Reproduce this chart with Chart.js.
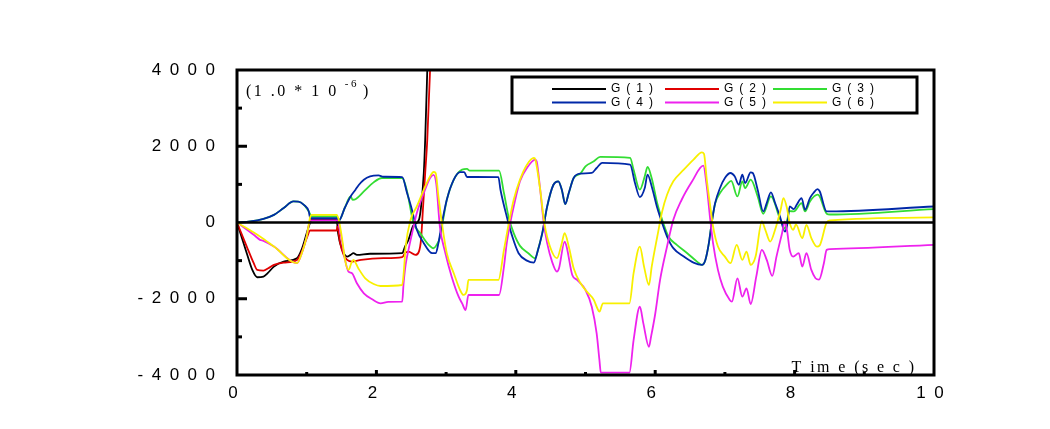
<!DOCTYPE html>
<html>
<head>
<meta charset="utf-8">
<title>G(1) - G(6) vs time</title>
<script src="https://cdn.jsdelivr.net/npm/chart.js@4.4.1/dist/chart.umd.min.js"></script>
<style>
  html, body { margin: 0; padding: 0; background: #fff; }
  #chart { display: block; }
</style>
</head>
<body>
<canvas id="chart" width="1050" height="429"></canvas>
<script>
const seriesNames = ["G(1)", "G(2)", "G(3)", "G(4)", "G(5)", "G(6)"];
const seriesColors = ["#000000", "#e00000", "#33dd33", "#0028a8", "#ee22ee", "#f8f000"];

const yTickValues = [-4000, -2000, 0, 2000, 4000];
const xTickValues = [0, 2, 4, 6, 8, 10];

// G(1) black - runs off the top after ~2.7 s
const g1Time = [0, 0.14, 0.22, 0.29, 0.38, 0.44, 0.53, 0.67, 0.86, 0.93, 1.03, 1.07, 1.43, 1.45, 1.51, 1.58, 1.63, 1.67, 1.72, 1.91, 2.37, 2.41, 2.46, 2.53, 2.61, 2.64, 2.68, 2.70, 2.73, 2.76];
const g1Vals = [0, -805, -1244, -1436, -1420, -1330, -1157, -1026, -937, -700, -105, 80, 80, -280, -718, -894, -850, -805, -850, -820, -805, -631, -455, -80, 70, 400, 1299, 2175, 4000, 6000];

// G(2) red
const g2Time = [0, 0.14, 0.24, 0.29, 0.38, 0.45, 0.53, 0.67, 0.86, 0.93, 1.0, 1.05, 1.43, 1.44, 1.48, 1.53, 1.58, 1.65, 1.78, 2.10, 2.37, 2.41, 2.46, 2.56, 2.61, 2.64, 2.67, 2.70, 2.73, 2.77, 2.80];
const g2Vals = [0, -631, -1068, -1244, -1262, -1200, -1112, -1052, -981, -763, -411, -210, -210, -105, -542, -850, -981, -1026, -981, -937, -910, -805, -763, -850, -763, -455, 421, 1299, 2175, 4000, 6000];

// G(3) green
const g3Time = [0, 0.19, 0.38, 0.53, 0.67, 0.81, 0.88, 0.96, 1.03, 1.07, 1.43, 1.46, 1.55, 1.63, 1.66, 1.70, 1.82, 1.96, 2.08, 2.37, 2.44, 2.53, 2.63, 2.75, 2.82, 2.86, 2.91, 2.96, 3.01, 3.11, 3.23, 3.30, 3.34, 3.76, 3.83, 3.90, 3.97, 4.06, 4.18, 4.28, 4.32, 4.38, 4.45, 4.54, 4.61, 4.66, 4.71, 4.76, 4.83, 4.93, 5.0, 5.12, 5.21, 5.64, 5.69, 5.78, 5.85, 5.89, 5.95, 6.03, 6.10, 6.19, 6.31, 6.46, 6.60, 6.67, 6.72, 6.77, 6.81, 6.86, 6.93, 7.03, 7.09, 7.18, 7.25, 7.29, 7.37, 7.47, 7.55, 7.66, 7.79, 7.86, 7.93, 7.99, 8.10, 8.15, 8.22, 8.33, 8.36, 8.46, 8.51, 10];
const g3Vals = [0, 26, 97, 200, 380, 552, 550, 465, 290, 158, 158, 50, 400, 684, 597, 611, 816, 1052, 1167, 1167, 815, 0, -280, -587, -675, -600, -400, 100, 597, 1123, 1386, 1404, 1360, 1360, 773, 116, -280, -613, -805, -937, -700, -280, 421, 990, 1080, 860, 483, 773, 1167, 1290, 1473, 1604, 1720, 1693, 1386, 860, 1210, 1457, 1160, 500, 70, -368, -587, -805, -1026, -1112, -981, -542, -16, 500, 773, 1000, 1090, 684, 1080, 905, 1123, 684, 228, 684, 97, -150, 300, 290, 510, 290, 552, 730, 680, 230, 210, 352];

// G(4) blue
const g4Time = [0, 0.19, 0.38, 0.53, 0.67, 0.81, 0.88, 0.96, 1.03, 1.05, 1.07, 1.43, 1.46, 1.55, 1.63, 1.70, 1.75, 1.82, 1.91, 2.03, 2.10, 2.37, 2.44, 2.51, 2.58, 2.68, 2.80, 2.85, 2.89, 2.94, 3.01, 3.11, 3.20, 3.26, 3.30, 3.75, 3.78, 3.87, 3.95, 4.04, 4.16, 4.26, 4.30, 4.38, 4.45, 4.54, 4.61, 4.66, 4.71, 4.76, 4.83, 4.93, 5.09, 5.16, 5.24, 5.64, 5.71, 5.78, 5.85, 5.89, 5.95, 6.03, 6.10, 6.17, 6.26, 6.41, 6.55, 6.67, 6.72, 6.77, 6.81, 6.86, 6.93, 7.00, 7.08, 7.14, 7.20, 7.25, 7.29, 7.37, 7.40, 7.47, 7.55, 7.60, 7.66, 7.72, 7.79, 7.86, 7.89, 7.93, 7.99, 8.03, 8.10, 8.15, 8.22, 8.27, 8.33, 8.36, 8.46, 8.51, 10];
const g4Vals = [0, 26, 97, 200, 380, 552, 550, 465, 290, 115, 115, 115, 50, 400, 684, 860, 990, 1123, 1210, 1235, 1200, 1190, 773, 334, -192, -542, -805, -805, -540, -16, 597, 1123, 1320, 1320, 1194, 1190, 860, 158, -368, -805, -1000, -1052, -845, -280, 421, 990, 1080, 860, 483, 773, 1167, 1281, 1299, 1430, 1562, 1520, 1036, 668, 905, 1254, 947, 379, -16, -368, -673, -894, -1052, -1112, -981, -542, -16, 510, 905, 1167, 1299, 1212, 990, 1254, 1036, 1315, 1299, 860, 290, 510, 790, 510, 158, -237, -105, 421, 350, 465, 641, 334, 641, 773, 878, 820, 290, 290, 420];

// G(5) magenta - runs along the bottom edge around 5.2-5.6 s
const g5Time = [0, 0.24, 0.33, 0.38, 0.53, 0.86, 0.93, 1.0, 1.05, 1.43, 1.46, 1.51, 1.55, 1.60, 1.65, 1.72, 1.82, 1.94, 2.06, 2.17, 2.37, 2.39, 2.42, 2.46, 2.51, 2.58, 2.68, 2.77, 2.82, 2.86, 2.91, 2.99, 3.08, 3.18, 3.23, 3.28, 3.32, 3.76, 3.83, 3.87, 3.92, 3.97, 4.06, 4.16, 4.28, 4.30, 4.35, 4.40, 4.45, 4.52, 4.59, 4.62, 4.70, 4.73, 4.81, 4.88, 5.0, 5.09, 5.16, 5.20, 5.22, 5.63, 5.69, 5.78, 5.83, 5.91, 5.94, 6.0, 6.07, 6.17, 6.26, 6.38, 6.53, 6.69, 6.74, 6.79, 6.83, 6.90, 6.97, 7.07, 7.10, 7.18, 7.25, 7.31, 7.37, 7.45, 7.53, 7.60, 7.68, 7.74, 7.82, 7.86, 7.89, 7.93, 7.98, 8.06, 8.11, 8.17, 8.24, 8.30, 8.35, 8.42, 8.46, 8.51, 10];
const g5Vals = [0, -323, -455, -480, -631, -1068, -805, -368, 53, 53, -50, -540, -981, -1288, -1330, -1595, -1857, -2015, -2120, -2080, -2078, -1600, -1100, -718, -300, 247, 773, 1167, 1250, 1000, -100, -805, -1420, -1946, -2120, -2296, -1901, -1901, -1157, -542, -16, 420, 1080, 1430, 1650, 1600, 860, 0, -542, -1026, -1288, -1200, -500, -640, -1375, -1507, -1770, -2210, -2909, -3611, -3940, -3940, -3085, -2210, -2646, -3260, -3000, -2400, -1507, -631, 70, 597, 1080, 1491, 947, 70, -542, -1244, -1683, -2033, -2078, -1463, -1946, -1726, -2140, -1420, -718, -981, -1402, -894, -280, 26, -190, -718, -894, -805, -1157, -805, -1244, -1463, -1500, -1068, -718, -700, -587];

// G(6) yellow
const g6Time = [0, 0.33, 0.53, 0.86, 0.93, 1.0, 1.05, 1.07, 1.43, 1.46, 1.51, 1.55, 1.60, 1.64, 1.67, 1.74, 1.84, 1.96, 2.06, 2.37, 2.39, 2.42, 2.49, 2.58, 2.68, 2.77, 2.82, 2.85, 2.89, 2.94, 3.01, 3.11, 3.20, 3.25, 3.30, 3.32, 3.75, 3.83, 3.90, 3.97, 4.06, 4.16, 4.26, 4.28, 4.35, 4.41, 4.49, 4.59, 4.66, 4.70, 4.76, 4.83, 4.93, 5.02, 5.12, 5.16, 5.20, 5.25, 5.63, 5.69, 5.78, 5.84, 5.91, 5.95, 6.03, 6.10, 6.17, 6.26, 6.41, 6.55, 6.67, 6.70, 6.74, 6.79, 6.83, 6.90, 7.00, 7.08, 7.17, 7.25, 7.31, 7.37, 7.44, 7.53, 7.58, 7.65, 7.72, 7.80, 7.84, 7.89, 7.93, 7.98, 8.02, 8.11, 8.17, 8.24, 8.32, 8.36, 8.46, 8.51, 10];
const g6Vals = [0, -368, -631, -1068, -805, -368, 142, 200, 200, 70, -455, -981, -1244, -1068, -981, -1200, -1463, -1612, -1665, -1639, -1360, -631, 70, 421, 860, 1210, 1325, 1300, 684, -16, -805, -1330, -1770, -1900, -1770, -1507, -1507, -718, -16, 597, 1123, 1517, 1693, 1650, 860, -16, -631, -937, -542, -280, -631, -1200, -1595, -1814, -2033, -2210, -2340, -2120, -2120, -1330, -631, -1157, -1639, -1157, -368, 290, 728, 1080, 1386, 1650, 1841, 1800, 1123, 421, -105, -631, -894, -1068, -587, -981, -763, -1112, -894, 26, -192, -500, -192, 334, 641, 379, -16, -192, -50, -411, -60, -411, -631, -600, 0, 53, 132];

const seriesTimes = [g1Time, g2Time, g3Time, g4Time, g5Time, g6Time];
const seriesVals = [g1Vals, g2Vals, g3Vals, g4Vals, g5Vals, g6Vals];

// "4000" -> "4 0 0 0", like the original plot software prints it
function spaced(s) {
  return String(s).split("").join("\u2002");
}

function legendText(name) {
  return name.split("").join("\u2002");
}

const frame = {
  id: "frame",
  afterDatasetsDraw(chart) {
    const { ctx, chartArea: a, scales } = chart;
    const x = scales.x;
    const y = scales.y;
    ctx.save();
    ctx.strokeStyle = "#000";

    // zero line
    const y0 = y.getPixelForValue(0);
    ctx.lineWidth = 2.5;
    ctx.beginPath();
    ctx.moveTo(a.left, y0);
    ctx.lineTo(a.right, y0);
    ctx.stroke();

    // inward tick marks
    ctx.lineWidth = 3;
    for (let v = -3000; v <= 3000; v += 1000) {
      if (v === 0) continue;
      const py = y.getPixelForValue(v);
      const len = v % 2000 === 0 ? 10 : 5;
      ctx.beginPath();
      ctx.moveTo(a.left, py);
      ctx.lineTo(a.left + len, py);
      ctx.stroke();
    }
    for (let t = 1; t < 10; t++) {
      const px = x.getPixelForValue(t);
      const len = t % 2 === 0 ? 5 : 3;
      ctx.beginPath();
      ctx.moveTo(px, a.bottom);
      ctx.lineTo(px, a.bottom - len);
      ctx.stroke();
    }

    // plot frame
    ctx.strokeRect(a.left, a.top, a.right - a.left, a.bottom - a.top);

    // unit note
    ctx.fillStyle = "#000";
    ctx.textBaseline = "alphabetic";
    ctx.textAlign = "left";
    ctx.font = "16px 'Liberation Serif'";
    if ("letterSpacing" in ctx) ctx.letterSpacing = "2.5px";
    const unit = "(1 .0 * 1 0";
    const ux = a.left + 9;
    const uy = a.top + 26;
    ctx.fillText(unit, ux, uy);
    const w = ctx.measureText(unit).width;
    ctx.font = "11px 'Liberation Serif'";
    ctx.fillText("-6", ux + w + 6, uy - 9);
    const w2 = ctx.measureText("-6").width;
    ctx.font = "16px 'Liberation Serif'";
    ctx.fillText(")", ux + w + w2 + 10, uy);

    // axis title inside the frame
    if ("letterSpacing" in ctx) ctx.letterSpacing = "2.4px";
    ctx.fillText("T im e (s e c )", x.getPixelForValue(8) - 3, a.bottom - 3);
    if ("letterSpacing" in ctx) ctx.letterSpacing = "0px";

    // legend box
    ctx.lineWidth = 3;
    ctx.strokeRect(512, 77, 405, 36);
    ctx.font = "12px 'Liberation Sans'";
    ctx.textBaseline = "middle";
    const colX = [552, 665, 773];
    const rowY = [89, 102.5];
    chart.data.datasets.forEach((ds, i) => {
      const cx = colX[i % 3];
      const cy = rowY[Math.floor(i / 3)];
      ctx.strokeStyle = ds.borderColor;
      ctx.lineWidth = 2;
      ctx.beginPath();
      ctx.moveTo(cx, cy);
      ctx.lineTo(cx + 54, cy);
      ctx.stroke();
      ctx.fillStyle = "#000";
      ctx.fillText(legendText(ds.label), cx + 59, cy);
    });
    ctx.restore();
  },
};

function buildDatasets() {
  return seriesNames.map((name, i) => ({
    label: name,
    data: seriesTimes[i].map((t, k) => ({ x: t, y: seriesVals[i][k] })),
    borderColor: seriesColors[i],
    backgroundColor: "transparent",
    borderWidth: 1.8,
    pointRadius: 0,
    tension: 0,
    cubicInterpolationMode: "monotone",
    fill: false,
    order: 6 - i,
  }));
}

function renderChart() {
  const ctx = document.getElementById("chart").getContext("2d");
  new Chart(ctx, {
    type: "line",
    data: { datasets: buildDatasets() },
    plugins: [frame],
    options: {
      responsive: false,
      animation: false,
      devicePixelRatio: 1,
      layout: { padding: { top: 70, right: 116, bottom: 0, left: 0 } },
      plugins: { legend: { display: false }, tooltip: { enabled: false } },
      scales: {
        x: {
          type: "linear",
          min: 0,
          max: 10,
          grid: { display: false, drawTicks: false },
          border: { display: false },
          afterFit: (s) => { s.height = 54; },
          ticks: {
            stepSize: 1,
            autoSkip: false,
            maxRotation: 0,
            padding: 8,
            labelOffset: -4,
            color: "#000",
            font: { family: "'Liberation Sans'", size: 17 },
            callback: (v) => (xTickValues.includes(v) ? spaced(v) : ""),
          },
        },
        y: {
          min: -4000,
          max: 4000,
          grid: { display: false, drawTicks: false },
          border: { display: false },
          afterFit: (s) => { s.width = 237; },
          ticks: {
            stepSize: 1000,
            autoSkip: false,
            padding: 22,
            color: "#000",
            font: { family: "'Liberation Sans'", size: 17 },
            callback: (v) => (yTickValues.includes(v) ? spaced(v) : ""),
          },
        },
      },
    },
  });
}

renderChart();
</script>
</body>
</html>
